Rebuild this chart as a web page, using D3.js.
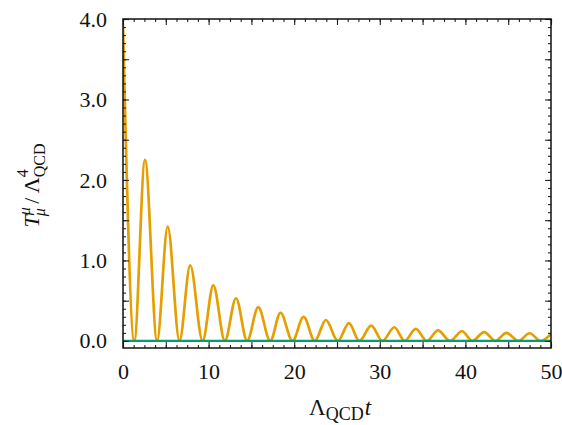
<!DOCTYPE html>
<html>
<head>
<meta charset="utf-8">
<script src="https://cdn.jsdelivr.net/npm/d3@7"></script>
<style>
  body { margin: 0; background: #fff; }
  text { font-family: "Liberation Serif", "DejaVu Serif", serif; fill: #111; }
</style>
</head>
<body>
<div id="chart-area"></div>
<script>
const chartAreaWidth = 562
const chartAreaHeight = 425
const margin = {top: 19, right: 11, bottom: 77, left: 123}
const width = chartAreaWidth - margin.left - margin.right;
const height = chartAreaHeight - margin.top - margin.bottom;

// peaks and zeros of the trace anomaly
const peakT = [0, 2.57, 5.22, 7.85, 10.55, 13.2, 15.8, 18.4, 21.1, 23.7, 26.4, 29.0, 31.7, 34.2, 36.8, 39.6, 42.2, 44.8, 47.5];
const peakV = [3.93, 2.25, 1.42, 0.94, 0.69, 0.53, 0.42, 0.35, 0.30, 0.26, 0.22, 0.19, 0.17, 0.15, 0.13, 0.12, 0.11, 0.10, 0.095];
const zeroT = [1.32, 3.98, 6.6, 9.3, 11.9, 14.5, 17.2, 19.8, 22.4, 25.1, 27.6, 30.3, 32.9, 35.5, 38.2, 40.8, 43.5, 46.2, 48.8];
const endT = [50];
const endV = [0.088];
// flat reference line
const flatT = [0, 50];
const flatV = [0, 0];

const xTickLabels = [0, 10, 20, 30, 40, 50];
const yTickLabels = [0, 1, 2, 3, 4];

let pts = [];
peakT.forEach((t, i) => pts.push({t: t, v: peakV[i]}));
zeroT.forEach(t => pts.push({t: t, v: 0}));
endT.forEach((t, i) => pts.push({t: t, v: endV[i]}));
pts.sort((a, b) => a.t - b.t);

const svg = d3.select("#chart-area").append("svg")
    .attr("width", chartAreaWidth)
    .attr("height", chartAreaHeight);

const g = svg.append("g")
    .attr("transform", `translate(${margin.left}, ${margin.top})`);

const x = d3.scaleLinear().domain([0, 50]).range([0, width]);
const y = d3.scaleLinear().domain([-0.088, 4.0]).range([height, 0]);

g.append("clipPath").attr("id", "clip")
    .append("rect").attr("width", width).attr("height", height);

const line = d3.line()
    .x(d => x(d.t))
    .y(d => y(d.v))
    .curve(d3.curveMonotoneX);

g.append("path")
    .datum(pts)
    .attr("clip-path", "url(#clip)")
    .attr("fill", "none")
    .attr("stroke", "#E69F00")
    .attr("stroke-width", 2.7)
    .attr("stroke-linejoin", "round")
    .attr("d", line);

g.append("path")
    .datum(flatT.map((t, i) => ({t: t, v: flatV[i]})))
    .attr("fill", "none")
    .attr("stroke", "#009E73")
    .attr("stroke-width", 2.4)
    .attr("d", d3.line().x(d => x(d.t)).y(d => y(d.v)));

// ticks, pointing inwards on all four sides
const xMinor = d3.range(0, 50.001, 1.25);
const xMajor = d3.range(0, 50.001, 5);
const yMinor = d3.range(0, 4.0001, 0.1);
const yMajor = d3.range(0, 4.0001, 0.5);

function tickAxis(axisFn, scale, vals, size, labels, pad) {
    return axisFn(scale).tickValues(vals).tickSize(-size).tickPadding(pad)
        .tickFormat(d => labels && labels.some(l => Math.abs(l - d) < 1e-6) ? d3.format(labels === yTickLabels ? ".1f" : "d")(d) : "");
}

function addAxis(axis, transform) {
    const a = g.append("g").attr("transform", transform).call(axis);
    a.select(".domain").remove();
    a.selectAll("line").attr("stroke", "#222").attr("stroke-width", 1.1);
    a.selectAll("text").attr("font-size", "22px")
        .style("font-family", "'Liberation Serif', serif").attr("fill", "#111");
    return a;
}

addAxis(tickAxis(d3.axisBottom, x, xMinor, 3, null, 0), `translate(0,${height})`);
addAxis(tickAxis(d3.axisBottom, x, xMajor, 6, xTickLabels, 15), `translate(0,${height})`);
addAxis(tickAxis(d3.axisTop, x, xMinor, 3, null, 0), "translate(0,0)");
addAxis(tickAxis(d3.axisTop, x, xMajor, 6, null, 0), "translate(0,0)");
addAxis(tickAxis(d3.axisLeft, y, yMinor, 3, null, 0), "translate(0,0)");
addAxis(tickAxis(d3.axisLeft, y, yMajor, 6, yTickLabels, 16), "translate(0,0)");
addAxis(tickAxis(d3.axisRight, y, yMinor, 3, null, 0), `translate(${width},0)`);
addAxis(tickAxis(d3.axisRight, y, yMajor, 6, null, 0), `translate(${width},0)`);

// frame
g.append("rect")
    .attr("width", width)
    .attr("height", height)
    .attr("fill", "none")
    .attr("stroke", "#111")
    .attr("stroke-width", 1.5);

// x label
const xl = g.append("text")
    .attr("x", width / 2 + 3)
    .attr("y", height + 67)
    .attr("text-anchor", "middle")
    .attr("font-size", "23px");
xl.append("tspan").text("Λ");
xl.append("tspan").attr("font-size", "18px").attr("dy", 5).text("QCD");
xl.append("tspan").attr("font-style", "italic").attr("dy", -5).attr("dx", 1).text("t");

// y label
const yl = g.append("text")
    .attr("transform", `translate(-84, ${height / 2 + 2}) rotate(-90)`)
    .attr("text-anchor", "middle")
    .attr("font-size", "22px");
yl.append("tspan").attr("font-style", "italic").text("T");
yl.append("tspan").attr("font-size", "16px").attr("font-style", "italic").attr("dy", -9).text("μ");
yl.append("tspan").attr("font-size", "16px").attr("font-style", "italic").attr("dx", -9).attr("dy", 15).text("μ");
yl.append("tspan").attr("dy", -6).text("\u2009/\u2009Λ");
yl.append("tspan").attr("font-size", "16px").attr("dy", -11).text("4");
yl.append("tspan").attr("font-size", "16px").attr("dx", -8).attr("dy", 17).text("QCD");
</script>
</body>
</html>
